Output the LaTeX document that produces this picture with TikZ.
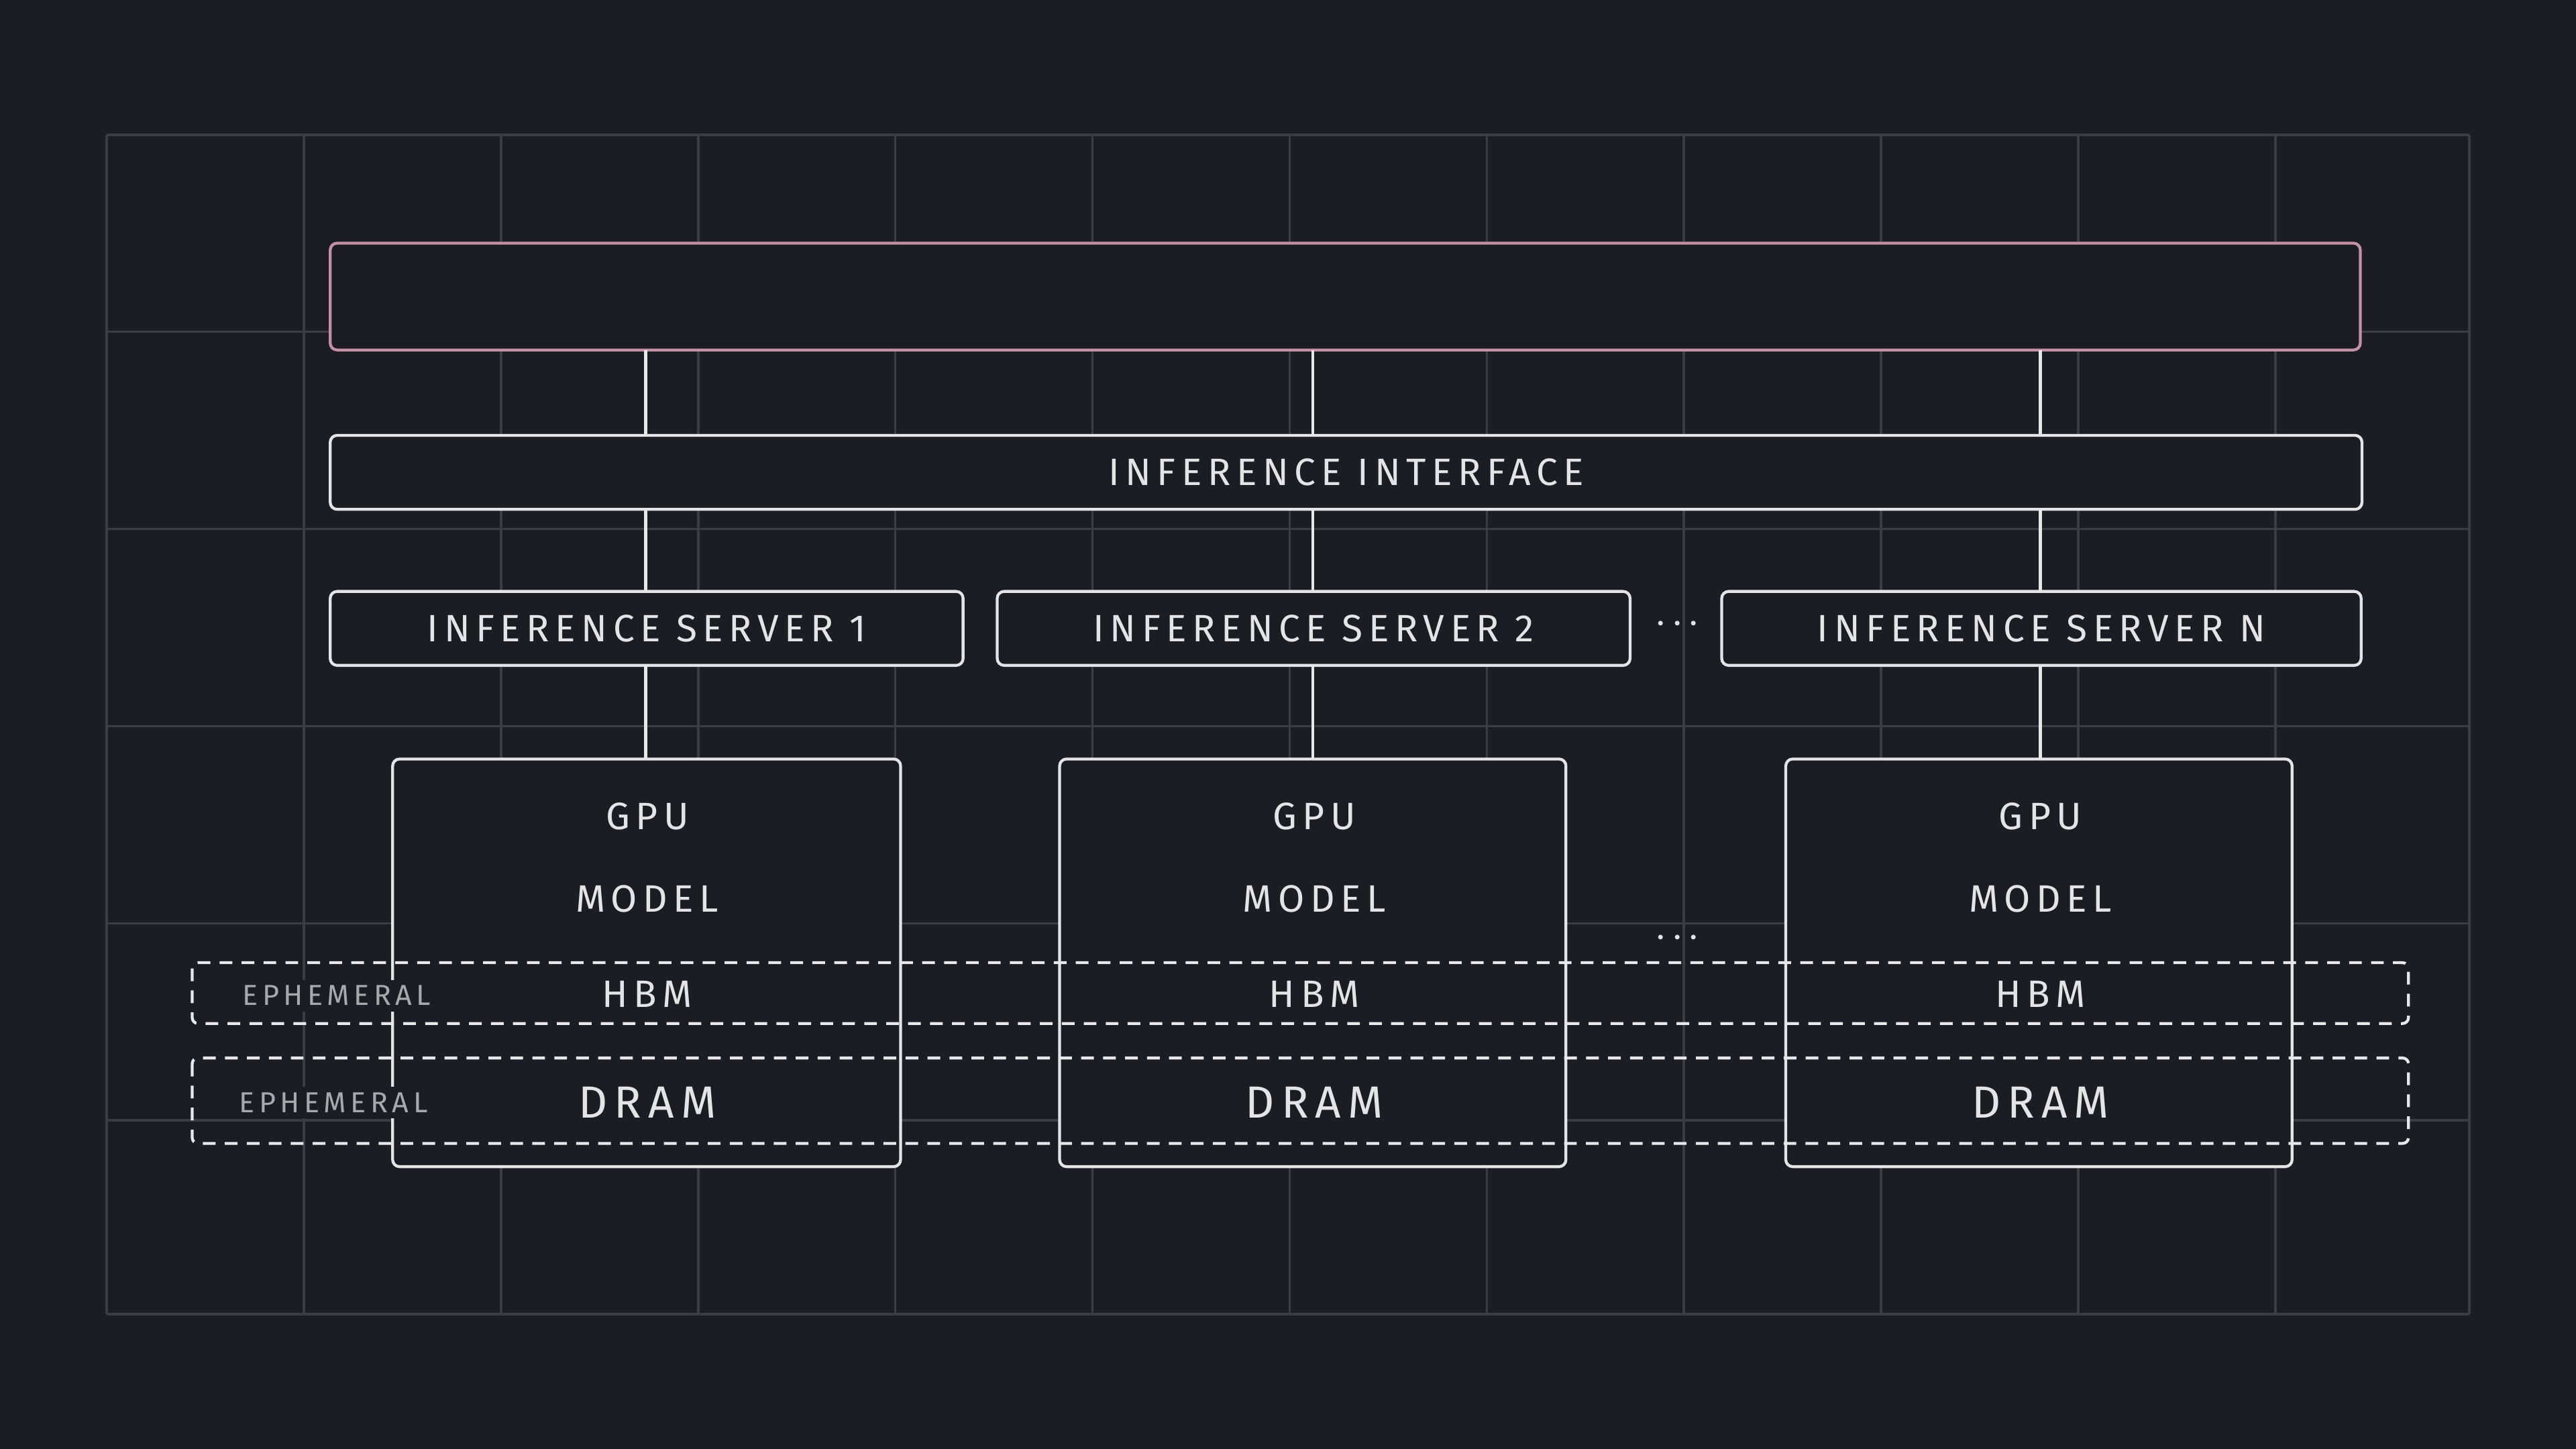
\documentclass[tikz,border=0pt]{standalone}
\usepackage{fontspec}
\setmainfont{Fira Sans}
\newfontfamily\lab[LetterSpace=15]{Fira Sans}
\definecolor{bg}{HTML}{1A1D23}
\definecolor{gridc}{HTML}{3A3D44}
\definecolor{fg}{HTML}{E4E4E6}
\definecolor{pinkc}{HTML}{C58FA5}
\definecolor{dimc}{HTML}{A8A9AD}
\begin{document}
\begin{tikzpicture}[x=0.01cm,y=-0.01cm,
 box/.style={draw=fg,line width=0.5pt,rounded corners=1.2pt,fill=bg,inner sep=0pt,outer sep=0pt},
 txt/.style={text=fg,font=\lab\fontsize{6.6}{7}\selectfont,inner sep=0pt},
 big/.style={text=fg,font=\lab\fontsize{7.8}{8}\selectfont,inner sep=0pt},
 eph/.style={text=dimc,font=\lab\fontsize{5}{6}\selectfont,fill=bg,inner sep=1pt},
 band/.style={draw=fg!85,line width=0.5pt,dash pattern=on 2.2pt off 1.6pt,rounded corners=1pt},
 conn/.style={draw=fg!90,line width=0.5pt}]
\fill[bg] (0,0) rectangle (1568,882);
\useasboundingbox (0,0) rectangle (1568,882);
\foreach \x in {65,185,...,1385,1503} \draw[gridc,line width=0.4pt] (\x,82)--(\x,800);
\foreach \y in {82,202,322,442,562,682,800} \draw[gridc,line width=0.4pt] (65,\y)--(1503,\y);
% top bar
\node[box,draw=pinkc,minimum width=12.35cm,minimum height=0.65cm,anchor=north west] (top) at (201,148) {};
\node[box,minimum width=12.36cm,minimum height=0.45cm,anchor=north west] (ii) at (201,265) {};
\node[txt] at (ii.center) {INFERENCE INTERFACE};
\node[box,minimum width=3.85cm,minimum height=0.45cm,anchor=north west] (s1) at (201,360) {};
\node[box,minimum width=3.85cm,minimum height=0.45cm,anchor=north west] (s2) at (607,360) {};
\node[box,minimum width=3.89cm,minimum height=0.45cm,anchor=north west] (s3) at (1048,360) {};
\node[txt] at (s1.center) {INFERENCE SERVER 1};
\node[txt] at (s2.center) {INFERENCE SERVER 2};
\node[txt] at (s3.center) {INFERENCE SERVER N};
\node[txt] (d1) at (1021,380) {$\cdot\!\cdot\!\cdot$};
% GPU boxes
\node[box,minimum width=3.09cm,minimum height=2.48cm,anchor=north west] (g1) at (239,462) {};
\node[box,minimum width=3.08cm,minimum height=2.48cm,anchor=north west] (g2) at (645,462) {};
\node[box,minimum width=3.08cm,minimum height=2.48cm,anchor=north west] (g3) at (1087,462) {};
% connectors
\coordinate (t1) at (393,213); \coordinate (t2) at (799,213); \coordinate (t3) at (1242,213);
\coordinate (i1t) at (393,265); \coordinate (i2t) at (799,265); \coordinate (i3t) at (1242,265);
\coordinate (i1b) at (393,310); \coordinate (i2b) at (799,310); \coordinate (i3b) at (1242,310);
\draw[conn] (t1)--(i1t) (t2)--(i2t) (t3)--(i3t);
\draw[conn] (i1b)--(s1.north -| i1b) (i2b)--(s2.north -| i2b) (i3b)--(s3.north -| i3b);
\draw[conn] (s1.south -| i1b)--(g1.north -| i1b) (s2.south -| i2b)--(g2.north -| i2b) (s3.south -| i3b)--(g3.north -| i3b);
% dashed bands
\draw[band] (117,586) rectangle (1466,623);
\draw[band] (117,644) rectangle (1466,696);
\node[eph] at (205,606) {EPHEMERAL};
\node[eph] at (203,671) {EPHEMERAL};
\node[txt] (d2) at (1021,571) {$\cdot\!\cdot\!\cdot$};
\foreach \g/\x in {g1/394,g2/800,g3/1242}{
 \node[txt] (\g a) at (\x,497) {GPU};
 \node[txt] (\g b) at (\x,547) {MODEL};
 \node[txt] (\g c) at (\x,605) {HBM};
 \node[big] (\g d) at (\x,671) {DRAM};
}
\end{tikzpicture}
\end{document}
